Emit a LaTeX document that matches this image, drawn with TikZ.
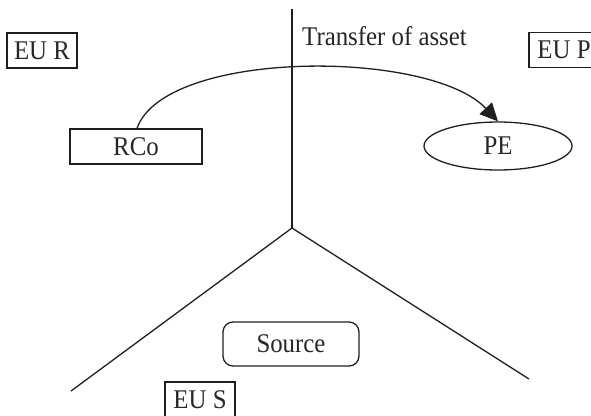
\documentclass[tikz,border=0pt]{standalone}
\usepackage{fontspec}
\setmainfont[FakeStretch=0.92]{Liberation Serif}
\usetikzlibrary{arrows.meta,shapes.geometric}
\begin{document}
\begin{tikzpicture}[x=1pt,y=-1pt,
  every node/.style={font=\fontsize{27}{32}\selectfont, inner sep=0pt, text=black!85},
  line/.style={line width=1.3pt, draw=black!88},
  tag/.style={line, draw, rectangle, minimum width=70pt, minimum height=35pt},
  entity/.style={line, draw, rectangle, minimum width=132pt, minimum height=35pt},
  oval/.style={line, draw, ellipse, minimum width=148pt, minimum height=48pt},
  soft/.style={line, draw, rectangle, rounded corners=10pt, minimum width=136pt, minimum height=44pt},
  flow/.style={line, -{Triangle[length=18pt,width=17pt]}}
]
\useasboundingbox (0,0) rectangle (591,415);

% borders between the three territories
\coordinate (top) at (292,9);
\coordinate (hub) at (292,228);
\coordinate (left) at (71,391);
\coordinate (right) at (529,379);
\draw[line] (top) -- (hub);
\draw[line, line join=miter] (left) -- (hub) -- (right);

% territory tags
\node[tag] (eur) at (42,50.5) {EU R};
\node[tag] (eup) at (564,50) {EU P};
\node[tag] (eus) at (200,399.5) {EU S};

% parties
\node[entity] (rco) at (136,146.5) {RCo};
\node[oval] (pe) at (498,146) {PE};
\node[soft] (src) at (291,344) {Source};

% asset transfer
\node[anchor=west] (lbl) at (302,36) {Transfer of asset};
\draw[flow] (rco.north) ++(1,0) coordinate (s)
  (s) .. controls (165,49) and (430,49) .. (pe.north);
\end{tikzpicture}
\end{document}
